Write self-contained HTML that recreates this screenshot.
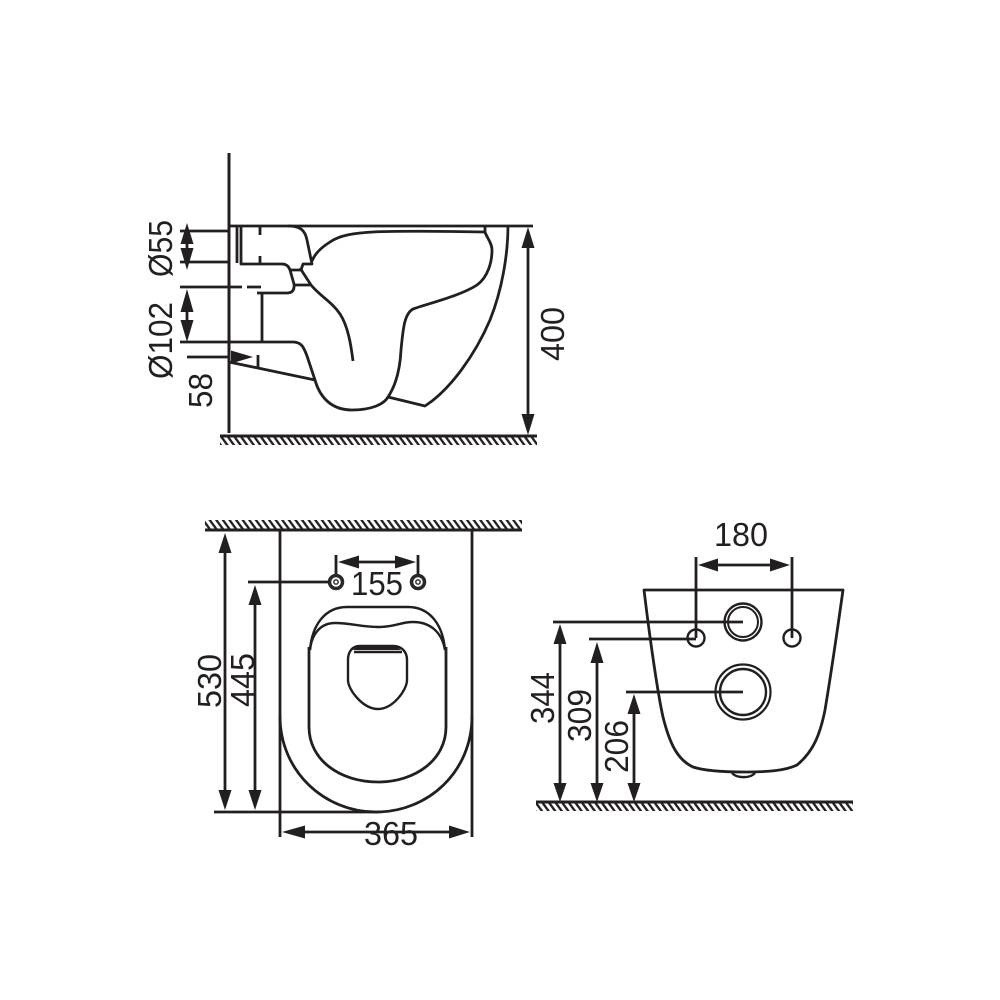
<!DOCTYPE html>
<html>
<head>
<meta charset="utf-8">
<style>
html,body{margin:0;padding:0;background:#fff;width:1000px;height:1000px;overflow:hidden}
svg{display:block}
text{font-family:"Liberation Sans",sans-serif;font-size:33px;fill:#231f20}
.l{fill:none;stroke:#231f20;stroke-width:2.8;stroke-linecap:butt;stroke-linejoin:round}
.t{fill:none;stroke:#231f20;stroke-width:2.4}
.a{fill:#231f20;stroke:none}
</style>
</head>
<body>
<svg width="1000" height="1000" viewBox="0 0 1000 1000" xmlns="http://www.w3.org/2000/svg">
<defs>
<pattern id="h" patternUnits="userSpaceOnUse" width="6.6" height="9">
<path d="M-1.65 -2.25L8.25 11.25M-8.25 -2.25L1.65 11.25M4.95 -2.25L14.85 11.25" stroke="#231f20" stroke-width="2.3" fill="none"/>
</pattern>
</defs>

<!-- Side view -->
<rect x="220" y="436" width="317" height="9" fill="url(#h)"/>
<path class="l" d="M229 153V433M220 436H537" style="stroke-width:3"/>
<path class="l" d="M229 226H533"/>
<path class="l" d="M180 231H229M180 262H229M180 287H242M247 287H261M180 342H259M187 357H229"/>
<path class="l" d="M237 226V263M241 226V264H282Q288 264 290 270L294 284Q295 293 287 293H257M262 293V342M260 227V235M260 256V264M258 355V368"/>
<path class="l" d="M288 226C300 226 305 230 307 240L312 264H303L301 270H290M295 285H310"/>
<path class="l" d="M229 362L315 380"/>
<path class="l" d="M259 342H293C302 342 304 348 307 356L315 380C320 398 332 410 352 410C372 410 384 404 388 397C396 385 400 370 401 350C403 330 404 314 413 309C430 303 460 296 477 285C488 277 492 262 492 250C492 243 487 238 485 232V225"/>
<path class="l" d="M485 232C440 231 390 231 373 232C355 233 340 235 330 242C322 247 315 253 312 261"/>
<path class="l" d="M300 268L311 285C320 296 332 302 340 314C348 326 351 345 353 361"/>
<path class="l" d="M388 397L425 406C450 390 475 355 490 320C502 290 508 255 508 225"/>
<path class="l" d="M187 235V258M187 305V325M528 240V425"/>
<path class="a" d="M187 223L193.5 244H180.5ZM187 270L193.5 248H180.5ZM187 289L193.5 312H180.5ZM187 342L193.5 320H180.5ZM253 357L231 350.5V363.5ZM528 227L534.5 248H521.5ZM528 435L534.5 414H521.5Z"/>
<text transform="translate(172,277) rotate(-90)" textLength="57" lengthAdjust="spacingAndGlyphs">Ø55</text>
<text transform="translate(172,379) rotate(-90)" textLength="77" lengthAdjust="spacingAndGlyphs">Ø102</text>
<text transform="translate(212,408) rotate(-90)" textLength="35" lengthAdjust="spacingAndGlyphs">58</text>
<text transform="translate(564,361) rotate(-90)" textLength="54" lengthAdjust="spacingAndGlyphs">400</text>

<!-- Top view -->
<rect x="205" y="520" width="317" height="9.5" fill="url(#h)"/>
<path class="l" d="M205 530H522" style="stroke-width:3"/>
<path class="l" d="M280 530V837M472 530V837M214 812H378"/>
<path class="l" d="M280 716C280 772 325 812 376 812C428 812 472 772 472 716"/>
<path class="l" d="M309 647V727C309 760 340 782 378 782C415 782 446 760 446 727V647"/>
<path class="t" d="M310 650C312 625 325 607 347 607H408C430 607 443 625 445 650"/>
<path class="t" d="M310 650C312 632 322 623 335 623C352 623 360 627 378 627C396 627 400 622 413 622C430 622 442 632 445 650"/>
<path class="t" d="M360 646H393C402 646 407 652 407 660V680C407 690 393 709 378 709C363 709 348 690 348 680V660C348 652 352 646 360 646ZM354 652H402"/>
<path class="a" d="M358 645.5H395L401 650H353Z"/>
<circle cx="336" cy="582" r="6.5" fill="none" stroke="#2b2829" stroke-width="3.5"/>
<circle cx="336" cy="582" r="2.2" fill="none" stroke="#2b2829" stroke-width="1.4"/>
<circle cx="418" cy="582" r="6.5" fill="none" stroke="#2b2829" stroke-width="3.5"/>
<circle cx="418" cy="582" r="2.2" fill="none" stroke="#2b2829" stroke-width="1.4"/>
<path class="l" d="M248 582H329M336 555V574M418 555V574M345 562H410M225 545V795M255 600V795M295 832H460"/>
<path class="a" d="M338 562L359 555.5V568.5ZM416 562L395 555.5V568.5ZM225 533L231.5 553H218.5ZM225 810L231.5 790H218.5ZM255 585L261.5 605H248.5ZM255 810L261.5 790H248.5ZM282 832L305 825.5V838.5ZM470 832L449 825.5V838.5Z"/>
<text x="351" y="595" textLength="52" lengthAdjust="spacingAndGlyphs">155</text>
<text transform="translate(221,708) rotate(-90)" textLength="54" lengthAdjust="spacingAndGlyphs">530</text>
<text transform="translate(254,707) rotate(-90)" textLength="54" lengthAdjust="spacingAndGlyphs">445</text>
<text x="364" y="845" textLength="54" lengthAdjust="spacingAndGlyphs">365</text>

<!-- Back view -->
<rect x="536" y="802" width="317" height="9" fill="url(#h)"/>
<path class="l" d="M536 802H853" style="stroke-width:3"/>
<path class="l" d="M644 590H843C836 640 830 680 825 710C820 735 813 752 797 765C785 771 765 772 745 772C725 772 705 771 693 767C678 760 670 745 663 717C658 695 650 640 644 590Z"/>
<path class="t" d="M732 773C736 778 750 779 755 773"/>
<circle cx="743" cy="622" r="18.5" fill="none" stroke="#231f20" stroke-width="2.4"/>
<circle cx="743" cy="622" r="15" fill="none" stroke="#231f20" stroke-width="2"/>
<circle cx="743" cy="692" r="27.5" fill="none" stroke="#231f20" stroke-width="2.2"/>
<circle cx="743" cy="692" r="23" fill="none" stroke="#231f20" stroke-width="2.4"/>
<circle cx="696" cy="638" r="8.5" fill="none" stroke="#231f20" stroke-width="2.4"/>
<circle cx="792" cy="638" r="8.5" fill="none" stroke="#231f20" stroke-width="2.4"/>
<path class="l" d="M553 622H743M589 639H696M626 692H743M696 557V638M792 557V638M710 565H778M560 635V790M597 655V790M634 705V790"/>
<path class="a" d="M698 565L718 558.5V571.5ZM790 565L770 558.5V571.5ZM560 624L566.5 644H553.5ZM560 802L566.5 783H553.5ZM597 642L603.5 663H590.5ZM597 802L603.5 783H590.5ZM634 694L640.5 714H627.5ZM634 802L640.5 783H627.5Z"/>
<text x="714" y="546" textLength="54" lengthAdjust="spacingAndGlyphs">180</text>
<text transform="translate(554,724) rotate(-90)" textLength="52" lengthAdjust="spacingAndGlyphs">344</text>
<text transform="translate(591,742) rotate(-90)" textLength="53" lengthAdjust="spacingAndGlyphs">309</text>
<text transform="translate(628,773) rotate(-90)" textLength="53" lengthAdjust="spacingAndGlyphs">206</text>
</svg>
</body>
</html>
